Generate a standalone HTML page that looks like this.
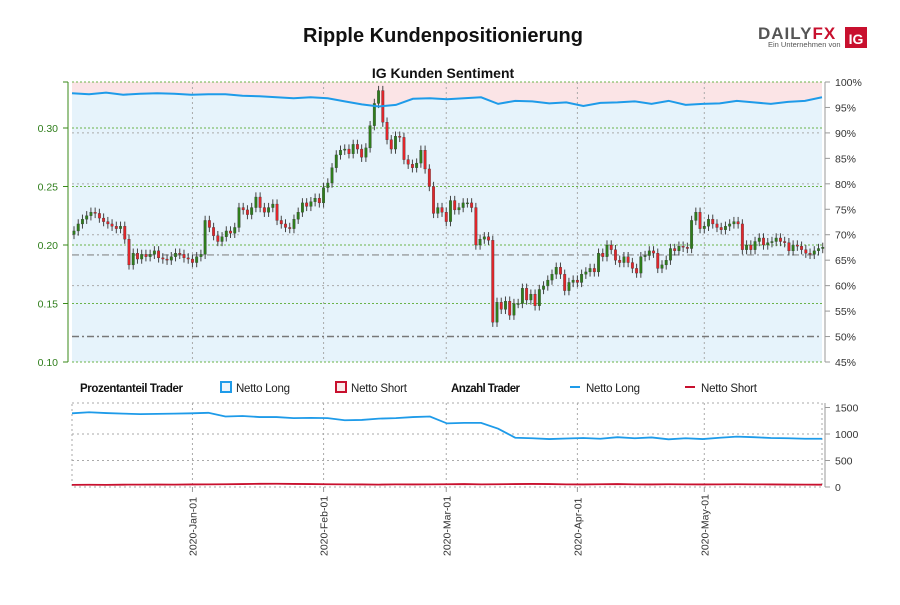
<!DOCTYPE html>
<html><head><meta charset="utf-8"><style>
body{margin:0;background:#fff;font-family:"Liberation Sans",sans-serif}
svg text{font-family:"Liberation Sans",sans-serif}
</style></head><body>
<svg id="c" width="900" height="600" xmlns="http://www.w3.org/2000/svg">
<text x="443" y="42" text-anchor="middle" font-size="20" font-weight="bold" fill="#111">Ripple Kundenpositionierung</text>
<g>
<text x="758" y="39" font-size="17" font-weight="bold" fill="#555" letter-spacing="1">DAILY<tspan fill="#c8102e">FX</tspan></text>
<text x="768" y="47" font-size="7.5" fill="#555">Ein Unternehmen von</text>
<rect x="845" y="27" width="22" height="21" fill="#c8102e"/>
<text x="856" y="44" font-size="14" font-weight="bold" fill="#fff" text-anchor="middle">IG</text>
</g>
<text x="443" y="78" text-anchor="middle" font-size="14" font-weight="bold" fill="#111">IG Kunden Sentiment</text>
<g id="main"></g>
<g id="legend" font-size="11.5">
<text x="80" y="392" font-weight="bold" fill="#111" textLength="103">Prozentanteil Trader</text>
<rect x="221" y="382" width="10" height="10" fill="#eaf4fb" stroke="#1e9be9" stroke-width="2"/>
<text x="236" y="392" fill="#222" textLength="54">Netto Long</text>
<rect x="336" y="382" width="10" height="10" fill="#fbeaea" stroke="#c8102e" stroke-width="2"/>
<text x="351" y="392" fill="#222" textLength="56">Netto Short</text>
<text x="451" y="392" font-weight="bold" fill="#111" textLength="69">Anzahl Trader</text>
<line x1="570" y1="387" x2="580" y2="387" stroke="#1e9be9" stroke-width="2"/>
<text x="586" y="392" fill="#222" textLength="54">Netto Long</text>
<line x1="685" y1="387" x2="695" y2="387" stroke="#c8102e" stroke-width="2"/>
<text x="701" y="392" fill="#222" textLength="56">Netto Short</text>
</g>
</svg>
<script>
const closes=[0.212,0.218,0.222,0.225,0.228,0.227,0.223,0.220,0.218,0.216,0.214,0.216,0.205,0.183,0.193,0.188,0.192,0.190,0.192,0.195,0.189,0.188,0.187,0.190,0.193,0.192,0.189,0.188,0.185,
0.190,0.192,0.221,0.215,0.208,0.203,0.207,0.212,0.210,0.215,0.232,0.230,0.226,0.232,0.241,0.232,0.228,0.232,0.235,0.221,0.218,0.215,0.214,0.222,0.228,0.236,0.233,0.237,0.240,
0.236,0.249,0.253,0.266,0.277,0.281,0.282,0.278,0.286,0.282,0.275,0.283,0.302,0.321,0.332,0.305,0.290,0.282,0.293,0.292,0.273,0.269,0.266,0.270,0.281,0.265,0.250,0.227,0.232,
0.228,0.220,0.238,0.230,0.232,0.236,0.236,0.232,0.200,0.205,0.207,0.204,
0.134,0.151,0.145,0.152,0.140,0.150,0.150,0.163,0.153,0.158,0.148,0.162,0.165,0.170,0.175,0.181,0.175,0.161,0.168,0.170,0.168,0.175,0.177,0.180,0.177,0.193,0.190,0.200,0.196,0.187,0.185,0.190,0.185,0.180,0.176,0.190,0.191,0.195,0.193,0.180,0.183,0.187,0.197,0.195,0.199,0.198,0.197,0.221,0.228,0.214,0.216,0.222,0.218,0.215,0.213,0.216,0.218,0.220,0.218,0.196,0.200,0.196,0.203,0.206,0.200,0.202,0.203,0.206,0.203,0.202,0.195,0.200,0.199,0.196,0.193,0.192,0.195,0.197,0.198];
const firstOpen=0.209;
const pctLong=[97.8,97.6,97.9,97.5,97.7,97.8,97.7,97.5,97.6,97.6,97.3,97.2,97.0,96.8,97.0,96.8,96.2,95.6,95.2,95.5,96.7,96.8,96.6,96.8,97.0,95.7,96.3,96.2,95.8,96.0,95.3,95.9,96.0,96.2,95.7,96.3,95.5,95.7,95.8,96.3,96.0,95.7,96.1,96.3,97.0];
const countLong=[1390,1410,1395,1385,1375,1380,1385,1390,1400,1330,1340,1320,1320,1300,1305,1300,1260,1265,1290,1300,1320,1330,1200,1210,1210,1100,930,920,905,915,925,910,940,920,935,900,920,905,930,950,940,925,920,910,910];
const countShort=[40,42,40,44,45,46,45,48,50,52,55,60,62,58,55,52,50,48,45,50,48,50,52,55,50,52,55,58,55,50,48,52,55,50,48,52,50,48,50,52,50,48,46,45,44];
const priceTicks=[0.10,0.15,0.20,0.25,0.30];
const pctTicks=[45,50,55,60,65,70,75,80,85,90,95,100];
const countTicks=[0,500,1000,1500];
const monthDays=[28,59,88,119,149];
const monthLabels=["2020-Jan-01","2020-Feb-01","2020-Mar-01","2020-Apr-01","2020-May-01"];
const currentPrice=0.1915;

const NS="http://www.w3.org/2000/svg";
const g=document.getElementById('main');
function el(t,a,p){const e=document.createElementNS(NS,t);for(const k in a)e.setAttribute(k,a[k]);(p||g).appendChild(e);return e;}
const L=72,R=822,T=82,B=362,BT=403,BB=487;
const xDay=d=>L+d*(R-L)/177.3+2;
const yPrice=p=>B-(p-0.10)*1170;
const yPct=v=>T+(100-v)*(B-T)/55;
const yCnt=v=>BB-v*(BB-BT)/1585;
const xS=(i,n)=>L+i*(R-L)/(n-1);

let bg=el('rect',{x:L,y:T,width:R-L,height:B-T,fill:'#e6f3fb'});

let ptsTop=pctLong.map((v,i)=>xS(i,pctLong.length)+','+yPct(v)).join(' ');
let sa=el('polygon',{points:L+','+T+' '+ptsTop+' '+R+','+T,fill:'#fbe4e6'});

pctTicks.forEach(v=>{if(v%10===0&&v<100&&v>50){let l=el('line',{x1:L,x2:R,y1:yPct(v),y2:yPct(v),stroke:'#aaa','stroke-dasharray':'2,3','stroke-width':1});}});
priceTicks.forEach(p=>{let l=el('line',{x1:L,x2:R,y1:yPrice(p),y2:yPrice(p),stroke:'#6bb34a','stroke-dasharray':'2,2','stroke-width':1});});
el('line',{x1:L,x2:R,y1:T,y2:T,stroke:'#6bb34a','stroke-dasharray':'2,2'});
monthDays.forEach(d=>{let l=el('line',{x1:xDay(d),x2:xDay(d),y1:T,y2:B,stroke:'#aaa','stroke-dasharray':'2,3'});
 let l2=el('line',{x1:xDay(d),x2:xDay(d),y1:BT,y2:BB,stroke:'#aaa','stroke-dasharray':'2,3'});});
let r50=el('line',{x1:L,x2:R,y1:yPct(50),y2:yPct(50),stroke:'#777','stroke-width':1.5,'stroke-dasharray':'7,3,2,3'});

let cp=el('line',{x1:L,x2:R,y1:yPrice(currentPrice),y2:yPrice(currentPrice),stroke:'#888','stroke-width':1.2,'stroke-dasharray':'7,3,2,3'});

const cw=(R-L)/177.3*0.6;
closes.forEach((c,i)=>{const o=i?closes[i-1]:firstOpen;const x=xDay(i);const hi=Math.max(o,c)+0.004,lo=Math.min(o,c)-0.004;
 const grp=el('g',{});
 
 
 el('line',{x1:x,x2:x,y1:yPrice(hi),y2:yPrice(lo),stroke:'#444','stroke-width':1},grp);
 const top=yPrice(Math.max(o,c)),h=Math.max(1,Math.abs(yPrice(o)-yPrice(c)));
 el('rect',{x:x-cw/2,y:top,width:cw,height:h,fill:c>=o?'#2f7d1c':'#e0262b',stroke:'#333','stroke-width':0.3},grp);});
let sl=el('polyline',{points:ptsTop,fill:'none',stroke:'#1e9be9','stroke-width':2});

let la=el('line',{x1:68,x2:68,y1:T,y2:B,stroke:'#3a8a1a','stroke-width':1});
priceTicks.forEach(p=>{el('line',{x1:63,x2:68,y1:yPrice(p),y2:yPrice(p),stroke:'#3a8a1a'});
 let t=el('text',{x:58,y:yPrice(p)+4,'text-anchor':'end','font-size':10.5,fill:'#2e7d1a'});t.textContent=p.toFixed(2);
 
 });
el('line',{x1:63,x2:68,y1:T,y2:T,stroke:'#3a8a1a'});
let ra=el('line',{x1:825,x2:825,y1:T,y2:B,stroke:'#999'});
pctTicks.forEach(v=>{el('line',{x1:825,x2:830,y1:yPct(v),y2:yPct(v),stroke:'#999'});
 let t=el('text',{x:835,y:yPct(v)+4,'font-size':10.5,fill:'#333'});t.textContent=v+'%';
 
 });
let bb=el('rect',{x:L,y:BT,width:R-L,height:BB-BT,fill:'none',stroke:'#aaa','stroke-dasharray':'2,3'});
countTicks.forEach(v=>{if(v>0&&v<1500){el('line',{x1:L,x2:R,y1:yCnt(v),y2:yCnt(v),stroke:'#aaa','stroke-dasharray':'2,3'});}
 el('line',{x1:825,x2:830,y1:yCnt(v),y2:yCnt(v),stroke:'#999'});
 let t=el('text',{x:835,y:yCnt(v)+4,'font-size':10.5,fill:'#333'});t.textContent=v;
 
 });
el('line',{x1:825,x2:825,y1:BT,y2:BB,stroke:'#999'});
let cl=el('polyline',{points:countLong.map((v,i)=>xS(i,countLong.length)+','+yCnt(v)).join(' '),fill:'none',stroke:'#1e9be9','stroke-width':1.8});

let cs=el('polyline',{points:countShort.map((v,i)=>xS(i,countShort.length)+','+yCnt(v)).join(' '),fill:'none',stroke:'#c8102e','stroke-width':1.8});

monthDays.forEach((d,i)=>{const x=xDay(d);el('line',{x1:x,x2:x,y1:BB,y2:BB+5,stroke:'#999'});
 let t=el('text',{x:0,y:0,transform:`translate(${x+4},556) rotate(-90)`,'font-size':10.5,fill:'#333'});t.textContent=monthLabels[i];
 
 });
</script>
</body></html>
